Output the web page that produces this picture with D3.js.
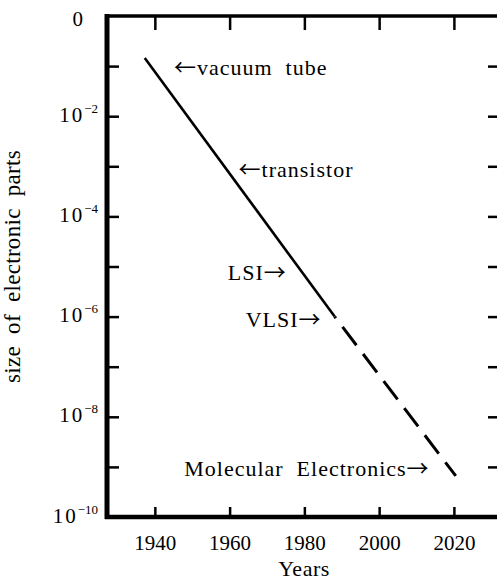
<!DOCTYPE html>
<html>
<head>
<meta charset="utf-8">
<script src="https://cdn.jsdelivr.net/npm/d3@7"></script>
<style>
body { margin: 0; background: #fff; }
svg { display: block; }
text { font-family: "Liberation Serif", "Times New Roman", serif; fill: #000; }
tspan.arrow { font-family: "Noto Sans CJK JP", "DejaVu Sans", sans-serif; }
</style>
</head>
<body>
<script>
"use strict";

// decades on the y axis (exponents of 10)
var yTickExps = [-1, -2, -3, -4, -5, -6, -7, -8, -9];
var yLabelExps = [0, -2, -4, -6, -8, -10];
var xTickYears = [1940, 1960, 1980, 2000, 2020];

// observed trend (solid) and projection (dashed)
var trendYears = [1937.3, 1988.1];
var trendSizes = [1.45e-1, 1e-6];
var projYears = [1988.1, 2020.5];
var projSizes = [1e-6, 6.6e-10];

// annotations
var noteTexts = ["\u2190vacuum  tube", "\u2190transistor", "LSI\u2192", "VLSI\u2192", "Molecular  Electronics\u2192"];
var noteYears = [1945.1, 1962.4, 1975.3, 1984.6, 2013.5];
var noteSizes = [6.6e-2, 6.2e-4, 5.4e-6, 6.2e-7, 6.6e-10];
var noteAnchors = ["start", "start", "end", "end", "end"];

var width = 497, height = 582;
var plotLeft = 107, plotRight = 501, plotTop = 16, plotBottom = 517;

var svg = d3.select("body").append("svg")
    .attr("width", width)
    .attr("height", height);

var x = d3.scaleLinear().domain([1927.2, 2032.6]).range([plotLeft, plotRight]);
var y = d3.scaleLog().domain([1e-10, 1]).range([plotBottom, plotTop]);

var pow = function(e) { return Math.pow(10, e); };

// frame
svg.append("line").attr("x1", plotLeft).attr("x2", plotLeft).attr("y1", plotTop - 2).attr("y2", plotBottom + 2)
    .attr("stroke", "#000").attr("stroke-width", 5);
svg.append("line").attr("x1", plotLeft - 2).attr("x2", plotRight).attr("y1", plotTop).attr("y2", plotTop)
    .attr("stroke", "#000").attr("stroke-width", 3.5);
svg.append("line").attr("x1", plotLeft - 2).attr("x2", plotRight).attr("y1", plotBottom).attr("y2", plotBottom)
    .attr("stroke", "#000").attr("stroke-width", 4.5);
svg.append("line").attr("x1", plotRight).attr("x2", plotRight).attr("y1", plotTop).attr("y2", plotBottom)
    .attr("stroke", "#000").attr("stroke-width", 3.5);

// inward ticks on all four sides
function styleTicks(g) {
    g.select(".domain").remove();
    g.selectAll(".tick line").attr("stroke", "#000").attr("stroke-width", 2.5);
}

svg.append("g").attr("transform", "translate(" + plotLeft + ",0)")
    .call(d3.axisLeft(y).tickValues(yTickExps.map(pow)).tickSize(-12).tickFormat(""))
    .call(styleTicks);

svg.append("g").attr("transform", "translate(" + plotRight + ",0)")
    .call(d3.axisRight(y).tickValues(yTickExps.map(pow)).tickSize(-13).tickFormat(""))
    .call(styleTicks);

svg.append("g").attr("transform", "translate(0," + plotTop + ")")
    .call(d3.axisTop(x).tickValues(xTickYears).tickSize(-14).tickFormat(""))
    .call(styleTicks);

var xAxis = svg.append("g").attr("transform", "translate(0," + plotBottom + ")")
    .call(d3.axisBottom(x).tickValues(xTickYears).tickSize(-10).tickFormat(d3.format("d")))
    .call(styleTicks);
xAxis.selectAll(".tick text")
    .attr("y", 33).attr("dy", null)
    .attr("font-size", 21);

// y labels: 0, 10^-2 ... 10^-10
var yAxis = svg.append("g").attr("transform", "translate(" + plotLeft + ",0)")
    .call(d3.axisLeft(y).tickValues(yLabelExps.map(pow)).tickSize(0).tickPadding(9))
    .call(styleTicks);
yAxis.selectAll(".tick text").each(function(d) {
    var e = Math.round(Math.log10(d));
    var t = d3.select(this).text(null)
        .attr("dy", "0.24em")
        .attr("font-size", 21);
    if (e === 0) {
        t.attr("x", -24).attr("dy", "0.45em").text("0");
        return;
    }
    t.append("tspan").attr("letter-spacing", 2).text("10");
    t.append("tspan").attr("dy", -9).attr("font-size", 13).text("\u2212" + (-e));
});

// lines
var line = d3.line()
    .x(function(d) { return x(d[0]); })
    .y(function(d) { return y(d[1]); });

svg.append("path")
    .datum(d3.zip(trendYears, trendSizes))
    .attr("d", line)
    .attr("fill", "none")
    .attr("stroke", "#000")
    .attr("stroke-width", 2.6);

svg.append("path")
    .datum(d3.zip(projYears, projSizes))
    .attr("d", line)
    .attr("fill", "none")
    .attr("stroke", "#000")
    .attr("stroke-width", 3)
    .attr("stroke-dasharray", "23,11")
    .attr("stroke-dashoffset", 21);

// annotations, arrows set in a font whose arrows are a full em wide
var notes = svg.append("g").selectAll("text")
    .data(noteTexts)
    .enter().append("text")
    .attr("x", function(d, i) { return x(noteYears[i]); })
    .attr("y", function(d, i) { return y(noteSizes[i]); })
    .attr("text-anchor", function(d, i) { return noteAnchors[i]; })
    .attr("font-size", 22)
    .attr("letter-spacing", 1)
    .style("white-space", "pre");
notes.each(function(d) {
    var t = d3.select(this);
    d.split(/([\u2190\u2192])/).forEach(function(part) {
        if (!part) return;
        var s = t.append("tspan").text(part);
        if (part === "\u2190" || part === "\u2192") s.attr("class", "arrow");
    });
});

// axis titles
svg.append("text")
    .attr("x", (plotLeft + plotRight) / 2)
    .attr("y", 576)
    .attr("text-anchor", "middle")
    .attr("font-size", 22)
    .attr("letter-spacing", 0.5)
    .text("Years");

svg.append("text")
    .attr("transform", "translate(20," + (plotTop + plotBottom) / 2 + ") rotate(-90)")
    .attr("text-anchor", "middle")
    .attr("font-size", 23)
    .attr("letter-spacing", 0.3)
    .style("white-space", "pre")
    .text("size  of  electronic  parts");
</script>
</body>
</html>
